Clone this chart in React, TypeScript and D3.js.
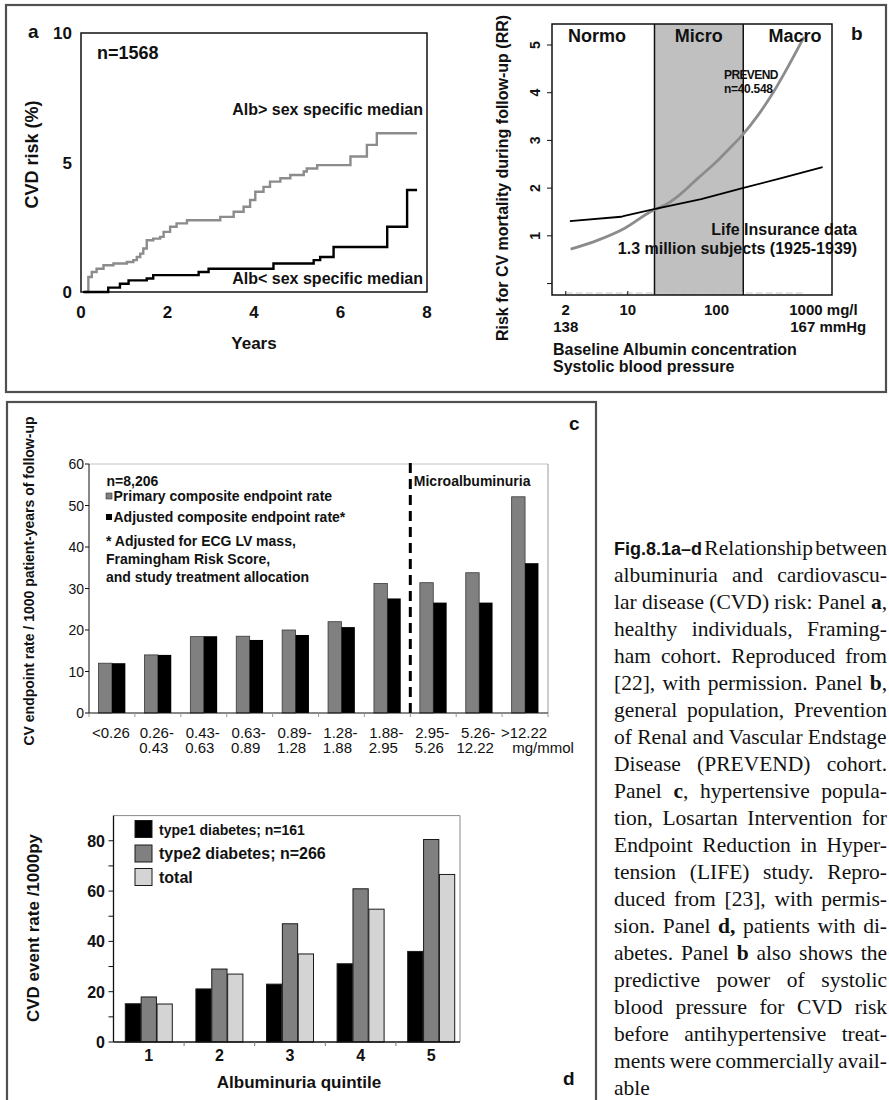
import * as d3 from 'd3';
import { useMemo } from 'react';

const SANS = "'Liberation Sans', Arial, Helvetica, sans-serif";
const SERIF = "'Liberation Serif', 'Times New Roman', serif";

// ---------- panel a: cumulative CVD risk (%) by year, step points
const highYears = [0.09, 0.17, 0.25, 0.36, 0.52, 0.75, 1.06, 1.21, 1.29, 1.37, 1.44, 1.52, 1.67, 1.83, 1.91, 2.06, 2.21, 2.45, 3.22, 3.53, 3.76, 3.91, 4.03, 4.22, 4.37, 4.61, 4.84, 5.15, 5.22, 5.46, 6.23, 6.61, 6.84, 7.77];
const highRisk = [0, 0.58, 0.77, 0.9, 1.03, 1.1, 1.16, 1.23, 1.35, 1.48, 1.68, 2.0, 2.06, 2.13, 2.32, 2.52, 2.65, 2.77, 2.9, 3.1, 3.29, 3.55, 3.87, 4.06, 4.26, 4.39, 4.52, 4.65, 4.77, 4.9, 5.23, 5.68, 6.13, 6.13];
const lowYears = [0.05, 0.63, 0.9, 1.1, 1.52, 1.67, 2.72, 2.95, 4.45, 5.38, 5.53, 5.84, 7.08, 7.54, 7.77];
const lowRisk = [0, 0.17, 0.32, 0.45, 0.52, 0.65, 0.77, 0.9, 1.1, 1.23, 1.35, 1.74, 2.52, 3.94, 3.94];
const aYTicks = [0, 5, 10];
const aXTicks = [0, 2, 4, 6, 8];

// ---------- panel b: relative risk vs albumin (log) and systolic BP
const prevendAlb = [2.27, 4.62, 9.25, 18.2, 28.4, 40.2, 61.9, 95.6, 135, 195, 294, 454, 641, 970];
const prevendRR = [0.72, 0.91, 1.16, 1.51, 1.68, 1.89, 2.21, 2.52, 2.8, 3.11, 3.53, 4.06, 4.55, 5.17];
const lifeSbp = [138.5, 144.7, 145.1, 148.7, 154.4, 159.4, 164.1, 169.1];
const lifeRR = [1.31, 1.4, 1.42, 1.56, 1.77, 2.0, 2.21, 2.44];
const zoneNames = ['Normo', 'Micro', 'Macro'];
const zoneBounds = [1.4, 20, 200, 2000];
const bYTicks = [0, 1, 2, 3, 4, 5];
const bAlbTicks = [2, 10, 100, 1000];
const bSbpTicks = [138, 167];

// ---------- panel c: LIFE endpoint rates per albuminuria category
const cCats = ['<0.26', '0.26-0.43', '0.43-0.63', '0.63-0.89', '0.89-1.28', '1.28-1.88', '1.88-2.95', '2.95-5.26', '5.26-12.22', '>12.22'];
const cLabelTop = ['<0.26', '0.26-', '0.43-', '0.63-', '0.89-', '1.28-', '1.88-', '2.95-', '5.26-', '>12.22'];
const cLabelBottom = ['', '0.43', '0.63', '0.89', '1.28', '1.88', '2.95', '5.26', '12.22', ''];
const primaryRate = [12, 14, 18.4, 18.5, 20, 22, 31.2, 31.4, 33.8, 52.1];
const adjustedRate = [12, 14, 18.5, 17.6, 18.8, 20.7, 27.6, 26.6, 26.6, 36.1];
const cYTicks = [0, 10, 20, 30, 40, 50, 60];

// ---------- panel d: diabetes event rates per quintile
const quintiles = ['1', '2', '3', '4', '5'];
const type1Rate = [15.2, 21.1, 23.0, 31.1, 36.0];
const type2Rate = [17.9, 29.0, 47.0, 60.9, 80.5];
const totalRate = [15.1, 27.0, 35.0, 52.8, 66.6];
const dSeries = ['type1', 'type2', 'total'];
const dColors = ['#000000', '#808080', '#d4d4d4'];
const dLegend = ['type1 diabetes; n=161', 'type2 diabetes; n=266', 'total'];
const dYTicks = [0, 20, 40, 60, 80];
const dMinorTicks = [10, 30, 50, 70];

// ---------- caption
const captionLead = 'Fig.8.1a–d';
const captionLines = [
  ' Relationship between',
  'albuminuria and cardiovascu-',
  'lar disease (CVD) risk: Panel *a*,',
  'healthy individuals, Framing-',
  'ham cohort. Reproduced from',
  '[22], with permission. Panel *b*,',
  'general population, Prevention',
  'of Renal and Vascular Endstage',
  'Disease (PREVEND) cohort.',
  'Panel *c*, hypertensive popula-',
  'tion, Losartan Intervention for',
  'Endpoint Reduction in Hyper-',
  'tension (LIFE) study. Repro-',
  'duced from [23], with permis-',
  'sion. Panel *d,* patients with di-',
  'abetes. Panel *b* also shows the',
  'predictive power of systolic',
  'blood pressure for CVD risk',
  'before antihypertensive treat-',
  'ments were commercially avail-',
  'able',
];

const CAP_X = 614;
const CAP_W = 273;
const CAP_Y0 = 555;
const CAP_LH = 27;
const CAP_FS = 21.5;

function Caption() {
  const rows = useMemo(() => {
    const ctx = document.createElement('canvas').getContext('2d')!;
    const measure = (s: string, font: string) => {
      ctx.font = font;
      return ctx.measureText(s).width;
    };
    return captionLines.map((line, i) => {
      const parts = line.split('*').map((t, k) => ({ t, bold: k % 2 === 1 }));
      let natural = parts.reduce(
        (s, p) => s + measure(p.t, `${p.bold ? 'bold ' : ''}${CAP_FS}px ${SERIF}`),
        0,
      );
      if (i === 0) natural += measure(captionLead, `bold 18px ${SANS}`);
      const spaces = (line.match(/ /g) || []).length;
      const last = i === captionLines.length - 1;
      const ws = !last && spaces ? (CAP_W - natural) / spaces : 0;
      return { parts, ws };
    });
  }, []);

  return (
    <g fill="#111">
      {rows.map((r, i) => (
        <text
          key={i}
          x={CAP_X}
          y={CAP_Y0 + i * CAP_LH}
          fontFamily={SERIF}
          fontSize={CAP_FS}
          style={{ wordSpacing: `${r.ws}px`, whiteSpace: 'pre' }}
        >
          {i === 0 && (
            <tspan fontFamily={SANS} fontWeight="bold" fontSize={18}>
              {captionLead}
            </tspan>
          )}
          {r.parts.map((p, k) => (
            <tspan key={k} fontWeight={p.bold ? 'bold' : 'normal'}>
              {p.t}
            </tspan>
          ))}
        </text>
      ))}
    </g>
  );
}

function PanelA() {
  const x = d3.scaleLinear().domain([0, 8]).range([81, 427]);
  const y = d3.scaleLinear().domain([0, 10]).range([292, 33]);
  const step = d3
    .line<[number, number]>()
    .x((d) => x(d[0]))
    .y((d) => y(d[1]))
    .curve(d3.curveStepAfter);
  const high = highYears.map((t, i) => [t, highRisk[i]] as [number, number]);
  const low = lowYears.map((t, i) => [t, lowRisk[i]] as [number, number]);

  return (
    <g fontFamily={SANS} fontWeight="bold" fill="#111">
      <rect x={x(0)} y={y(10)} width={x(8) - x(0)} height={y(0) - y(10)} fill="none" stroke="#111" strokeWidth={1.5} />
      <path d={step(high) || ''} fill="none" stroke="#8c8c8c" strokeWidth={2.4} />
      <path d={step(low) || ''} fill="none" stroke="#000" strokeWidth={2.4} />
      {aYTicks.map((t) => (
        <text key={t} x={72} y={y(t) + 6} textAnchor="end" fontSize={17}>
          {t}
        </text>
      ))}
      {aXTicks.map((t) => (
        <text key={t} x={x(t)} y={318} textAnchor="middle" fontSize={17}>
          {t}
        </text>
      ))}
      <text x={x(4)} y={349} textAnchor="middle" fontSize={17}>Years</text>
      <text transform={`translate(32,${y(5) - 8}) rotate(-90)`} textAnchor="middle" dy="0.35em" fontSize={18}>
        CVD risk (%)
      </text>
      <text x={28} y={38} fontSize={19}>a</text>
      <text x={97} y={59} fontSize={18}>n=1568</text>
      <text x={423} y={115} textAnchor="end" fontSize={16}>Alb&gt; sex specific median</text>
      <text x={423} y={284} textAnchor="end" fontSize={16}>Alb&lt; sex specific median</text>
    </g>
  );
}

function PanelB() {
  const x = d3.scaleLog().domain([1.4, 2000]).range([552, 832]);
  const y = d3.scaleLinear().domain([-0.24, 5.44]).range([295, 24]);
  const sbp = d3.scaleLinear().domain([138, 167]).range([x(2), x(1000)]);
  const prevendLine = d3
    .line<number>()
    .x((d) => x(d))
    .y((_, i) => y(prevendRR[i]))
    .curve(d3.curveMonotoneX);
  const lifeLine = d3
    .line<number>()
    .x((d) => sbp(d))
    .y((_, i) => y(lifeRR[i]));
  const top = y(5.44);
  const bottom = y(-0.24);

  return (
    <g fontFamily={SANS} fontWeight="bold" fill="#111">
      <rect x={x(20)} y={top} width={x(200) - x(20)} height={bottom - top} fill="#c0c0c0" />
      {[20, 200].map((v) => (
        <line key={v} x1={x(v)} x2={x(v)} y1={top} y2={bottom} stroke="#111" strokeWidth={1.5} />
      ))}
      <line x1={x(2)} x2={x(1000)} y1={bottom - 2} y2={bottom - 2} stroke="#c8c8c8" strokeWidth={1.2} strokeDasharray="7 3" />
      <rect x={x(1.4)} y={top} width={x(2000) - x(1.4)} height={bottom - top} fill="none" stroke="#111" strokeWidth={1.5} />
      {[2, 10].map((v) => (
        <line key={v} x1={x(v)} x2={x(v)} y1={bottom} y2={bottom - 4} stroke="#111" />
      ))}
      {bYTicks.map((t) => (
        <line key={t} x1={x(1.4) - 5} x2={x(1.4)} y1={y(t)} y2={y(t)} stroke="#111" />
      ))}
      <path d={prevendLine(prevendAlb) || ''} fill="none" stroke="#8c8c8c" strokeWidth={2.8} />
      <path d={lifeLine(lifeSbp) || ''} fill="none" stroke="#000" strokeWidth={1.8} />
      {bYTicks
        .filter((t) => t > 0)
        .map((t) => (
          <text key={t} transform={`translate(535,${y(t)}) rotate(-90)`} textAnchor="middle" dy="0.35em" fontSize={14}>
            {t}
          </text>
        ))}
      <text transform="translate(502,178) rotate(-90)" textAnchor="middle" dy="0.35em" fontSize={16}>
        Risk for CV mortality during follow-up (RR)
      </text>
      {zoneNames.map((z, i) => (
        <text
          key={z}
          x={i === 1 ? x(Math.sqrt(zoneBounds[1] * zoneBounds[2])) : i === 0 ? 597 : 795}
          y={42}
          textAnchor="middle"
          fontSize={18}
        >
          {z}
        </text>
      ))}
      <text x={851} y={40} fontSize={19}>b</text>
      <text x={724} y={79} fontSize={12} letterSpacing={-0.6}>PREVEND</text>
      <text x={724} y={92.5} fontSize={12} letterSpacing={-0.3}>n=40.548</text>
      <text x={857} y={235} textAnchor="end" fontSize={16}>Life Insurance data</text>
      <text x={857} y={254} textAnchor="end" fontSize={16}>1.3 million subjects (1925-1939)</text>
      {bAlbTicks.map((t) => (
        <text key={t} x={t === 1000 ? x(t) - 16 : x(t)} y={315} textAnchor={t === 1000 ? 'start' : 'middle'} fontSize={15}>
          {t === 1000 ? `${t} mg/l` : t}
        </text>
      ))}
      {bSbpTicks.map((t) => (
        <text key={t} x={t === 167 ? sbp(t) - 15 : sbp(t)} y={331.5} textAnchor={t === 167 ? 'start' : 'middle'} fontSize={15}>
          {t === 167 ? `${t} mmHg` : t}
        </text>
      ))}
      <text x={553} y={355} fontSize={16}>Baseline Albumin concentration</text>
      <text x={553} y={372} fontSize={16}>Systolic blood pressure</text>
    </g>
  );
}

function PanelC() {
  const x = d3.scaleBand<string>().domain(cCats).range([89, 548]);
  const groupW = 26.8;
  const inner = d3.scaleBand<string>().domain(['primary', 'adjusted']).range([0, groupW]);
  const y = d3.scaleLinear().domain([0, 60]).range([713, 464]);
  const off = (x.bandwidth() - groupW) / 2;
  const left = x.range()[0];
  const right = x.range()[1];
  const microX = x(cCats[7]) as number;

  return (
    <g fontFamily={SANS} fill="#111">
      <line x1={left} x2={right} y1={y(60)} y2={y(60)} stroke="#c4c4c4" />
      <line x1={right} x2={right} y1={y(60)} y2={y(0)} stroke="#9a9a9a" />
      {cCats.map((c, i) => (
        <g key={c}>
          <rect
            x={(x(c) as number) + off + (inner('primary') as number)}
            y={y(primaryRate[i])}
            width={inner.bandwidth()}
            height={y(0) - y(primaryRate[i])}
            fill="#808080"
            stroke="#3a3a3a"
            strokeWidth={0.8}
          />
          <rect
            x={(x(c) as number) + off + (inner('adjusted') as number)}
            y={y(adjustedRate[i])}
            width={inner.bandwidth()}
            height={y(0) - y(adjustedRate[i])}
            fill="#000"
          />
        </g>
      ))}
      <line x1={microX} x2={microX} y1={y(60) - 1} y2={y(0)} stroke="#000" strokeWidth={3} strokeDasharray="10 6" />
      <line x1={left} x2={left} y1={y(60)} y2={y(0)} stroke="#111" />
      <line x1={left} x2={right} y1={y(0)} y2={y(0)} stroke="#111" strokeWidth={1.2} />
      {[...cCats.map((c) => x(c) as number), right].map((v, i) => (
        <line key={i} x1={v} x2={v} y1={y(0)} y2={y(0) + 4} stroke="#999" />
      ))}
      {cYTicks.map((t) => (
        <g key={t}>
          <line x1={left - 4} x2={left} y1={y(t)} y2={y(t)} stroke="#111" />
          <text x={84} y={y(t) + 5} textAnchor="end" fontSize={14}>
            {t}
          </text>
        </g>
      ))}
      {cCats.map((c, i) => {
        const cx = (x(c) as number) + x.bandwidth() / 2;
        return (
          <g key={c} fontSize={15}>
            <text x={cx - 1} y={738} textAnchor="middle">{cLabelTop[i]}</text>
            {cLabelBottom[i] && (
              <text x={cx - 4} y={753} textAnchor="middle">{cLabelBottom[i]}</text>
            )}
          </g>
        );
      })}
      <text x={543} y={753} textAnchor="middle" fontSize={15}>mg/mmol</text>
      <g fontWeight="bold">
        <text transform="translate(29,581) rotate(-90)" textAnchor="middle" dy="0.35em" fontSize={14}>
          CV endpoint rate / 1000 patient-years of follow-up
        </text>
        <text x={569} y={430} fontSize={19}>c</text>
        <text x={106.5} y={486} fontSize={14}>n=8,206</text>
        <rect x={106} y={493} width={6} height={6} fill="#808080" stroke="#333" strokeWidth={0.6} />
        <text x={113.5} y={501} fontSize={14}>Primary composite endpoint rate</text>
        <rect x={106} y={514} width={6} height={6} fill="#000" />
        <text x={113.5} y={522} fontSize={14}>Adjusted composite endpoint rate*</text>
        <text x={106} y={546} fontSize={14}>* Adjusted for ECG LV mass,</text>
        <text x={106} y={564} fontSize={14}>Framingham Risk Score,</text>
        <text x={106} y={582} fontSize={14}>and study treatment allocation</text>
        <text x={microX + 3.5} y={486} fontSize={14}>Microalbuminuria</text>
      </g>
    </g>
  );
}

function PanelD() {
  const x = d3.scaleBand<string>().domain(quintiles).range([113.5, 466.5]);
  const groupW = 47;
  const inner = d3.scaleBand<string>().domain(dSeries).range([0, groupW]).paddingInner(0.04);
  const y = d3.scaleLinear().domain([0, 90]).range([1042, 815.6]);
  const off = (x.bandwidth() - groupW) / 2;
  const values = [type1Rate, type2Rate, totalRate];
  const left = x.range()[0];
  const frameRight = 460;

  return (
    <g fontFamily={SANS} fontWeight="bold" fill="#111">
      <line x1={left} x2={frameRight} y1={y(90)} y2={y(90)} stroke="#8a8a8a" />
      <line x1={frameRight} x2={frameRight} y1={y(90)} y2={y(0)} stroke="#8a8a8a" />
      {quintiles.map((q, i) => (
        <g key={q}>
          {dSeries.map((s, k) => (
            <rect
              key={s}
              x={(x(q) as number) + off + (inner(s) as number)}
              y={y(values[k][i])}
              width={inner.bandwidth()}
              height={y(0) - y(values[k][i])}
              fill={dColors[k]}
              stroke="#1a1a1a"
              strokeWidth={1}
            />
          ))}
        </g>
      ))}
      <line x1={left} x2={left} y1={y(90)} y2={y(0)} stroke="#111" strokeWidth={1.3} />
      <line x1={left} x2={frameRight} y1={y(0)} y2={y(0)} stroke="#111" strokeWidth={1.3} />
      {quintiles.slice(1).map((q) => (
        <line key={q} x1={x(q) as number} x2={x(q) as number} y1={y(0)} y2={y(0) + 4} stroke="#777" />
      ))}
      {[...dYTicks, ...dMinorTicks].map((t) => (
        <line key={t} x1={left - 5} x2={left} y1={y(t)} y2={y(t)} stroke="#111" />
      ))}
      {dYTicks.map((t) => (
        <text key={t} x={105} y={y(t) + 6} textAnchor="end" fontSize={16}>
          {t}
        </text>
      ))}
      {quintiles.map((q) => (
        <text key={q} x={(x(q) as number) + x.bandwidth() / 2} y={1061} textAnchor="middle" fontSize={16}>
          {q}
        </text>
      ))}
      <text x={299} y={1088} textAnchor="middle" fontSize={17}>Albuminuria quintile</text>
      <text transform="translate(33,928) rotate(-90)" textAnchor="middle" dy="0.35em" fontSize={17}>
        CVD event rate /1000py
      </text>
      <text x={563} y={1085} fontSize={19}>d</text>
      {dLegend.map((label, k) => (
        <g key={label}>
          <rect x={135} y={[820.5, 845, 868.5][k]} width={17} height={17} fill={dColors[k]} stroke="#1a1a1a" />
          <text x={159} y={[820.5, 845, 868.5][k] + 14} fontSize={k === 0 ? 14 : 16}>
            {label}
          </text>
        </g>
      ))}
    </g>
  );
}

export default function App() {
  return (
    <svg
      width={889}
      height={1100}
      style={{ position: 'absolute', left: 0, top: 0, background: '#fff' }}
      role="img"
      aria-label="Albuminuria and cardiovascular risk figure"
    >
      <rect x={0} y={0} width={889} height={1100} fill="#fff" />
      <rect x={6} y={5} width={880} height={387} fill="none" stroke="#505050" strokeWidth={2.2} />
      <rect x={7} y={402} width={589} height={720} fill="none" stroke="#505050" strokeWidth={2.2} />
      <PanelA />
      <PanelB />
      <PanelC />
      <PanelD />
      <Caption />
    </svg>
  );
}
